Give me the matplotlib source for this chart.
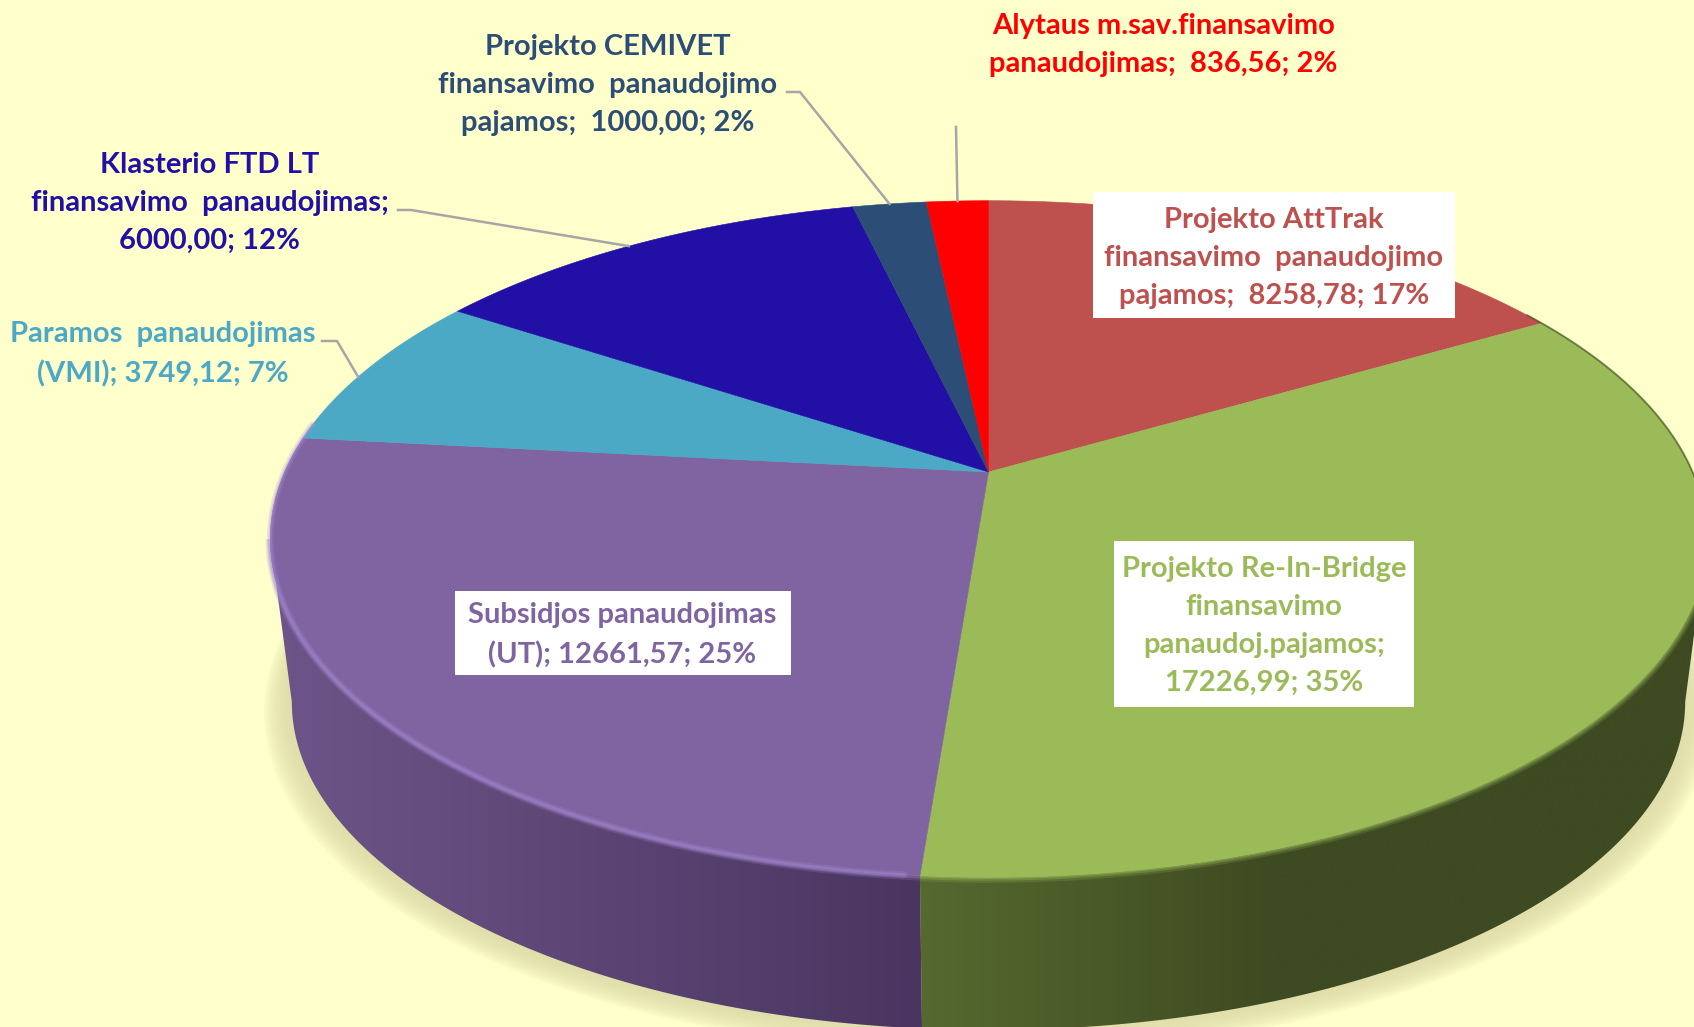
import numpy as np
import matplotlib
matplotlib.use("Agg")
import matplotlib.pyplot as plt
from matplotlib.colors import LinearSegmentedColormap
from matplotlib.patches import Polygon, Rectangle

# slices, clockwise from 12 o'clock
names = ["Projekto AttTrak\nfinansavimo  panaudojimo\npajamos;  8258,78; 17%",
         "Projekto Re-In-Bridge\nfinansavimo\npanaudoj.pajamos;\n17226,99; 35%",
         "Subsidjos panaudojimas\n(UT); 12661,57; 25%",
         "Paramos  panaudojimas\n(VMI); 3749,12; 7%",
         "Klasterio FTD LT\nfinansavimo  panaudojimas;\n6000,00; 12%",
         "Projekto CEMIVET\nfinansavimo  panaudojimo\npajamos;  1000,00; 2%",
         "Alytaus m.sav.finansavimo\npanaudojimas;  836,56; 2%"]
values = [8258.78, 17226.99, 12661.57, 3749.12, 6000.00, 1000.00, 836.56]
colours = ["#BE504E", "#9BBB59", "#8064A2", "#4BA9C5", "#210FA6", "#2C4D75", "#FF0000"]

BG = "#FFFFCC"
CX, CY = 988.5, 472          # pie centre in pixels
A, B, K = 704, 325, 0.198    # disc half-axes and perspective
DEPTH, SHRINK = 165, 0.97    # lower rim of the wall


def rim(theta, depth=0.0, scale=1.0):
    """Angle (deg clockwise from top) to picture pixels, with perspective."""
    t = np.radians(theta)
    w = 1 + K * np.cos(t)
    return np.column_stack([CX + scale * A * np.sin(t) / w,
                            CY + depth - scale * B * np.cos(t) / w])


def wall(ax, t0, t1, cols, stops):
    top = rim(np.linspace(t0, t1, 120))
    low = rim(np.linspace(t1, t0, 120), DEPTH, SHRINK)
    poly = Polygon(np.vstack([top, low]), closed=True, fc="none", ec="none", transform=ax.transData)
    ax.add_patch(poly)
    cmap = LinearSegmentedColormap.from_list("w", list(zip(stops, cols)))
    im = ax.imshow(np.linspace(0, 1, 512)[None, :], cmap=cmap, aspect="auto", zorder=3,
                   extent=(min(top[:, 0].min(), low[:, 0].min()), max(top[:, 0].max(), low[:, 0].max()), 1027, 0))
    im.set_clip_path(poly)


fig = plt.figure(figsize=(16.94, 10.27), dpi=100, facecolor=BG)
ax = fig.add_axes([0, 0, 1, 1], facecolor=BG)
ax.set_axis_off()
plt.rcParams["font.family"] = ["Lato", "DejaVu Sans"]

edges = 360 * np.cumsum([0] + values) / sum(values)
tang = np.degrees(np.arccos(-K))   # where the rim silhouette turns

# soft shadow behind the wall
for grow, shift in zip(np.linspace(1.04, 1.0, 14), np.linspace(8, 0, 14)):
    ax.fill(*rim(np.linspace(0, 360, 361), DEPTH + shift, SHRINK * grow).T, color="#DEDCA8", alpha=0.13, lw=0, zorder=1)

wall(ax, tang, edges[2], ["#56692F", "#3E4A21", "#3E4A21"], [0, 0.45, 1])
wall(ax, edges[2], 360 - tang, ["#6E5589", "#4A3560"], [0, 1])

# blurred bevel of the green rim over the wall
arc = rim(np.linspace(tang, edges[2], 200))
for lw, a in [(8, 0.2), (5, 0.3), (2.5, 0.45)]:
    ax.plot(*arc.T, color=colours[1], lw=lw, alpha=a, zorder=4, solid_capstyle="butt")
arc = rim(np.linspace(edges[2], 360 - tang, 200))
for lw, a in [(7, 0.2), (4, 0.3)]:
    ax.plot(*arc.T, color="#A78BD4", lw=lw, alpha=a, zorder=4, solid_capstyle="butt")

# top face
for c, t0, t1 in zip(colours, edges[:-1], edges[1:]):
    th = np.linspace(t0, t1, max(int(t1 - t0) * 3, 8))
    ax.add_patch(Polygon(np.vstack([[CX, CY], rim(th)]), closed=True, fc=c, ec=c, lw=0.4, zorder=5))

# rim light
arc = rim(np.linspace(edges[2] + 1, 360 - tang + 20, 200))
for lw, a in [(5, 0.2), (2.5, 0.35)]:
    ax.plot(*arc.T, color="#A98EDA", lw=lw, alpha=a, zorder=6, solid_capstyle="round")
arc = rim(np.linspace(edges[1] - 2, tang + 4, 100))
ax.plot(*arc.T, color="#4A5A26", lw=1.4, alpha=0.7, zorder=6)

# leader lines, ending near the middle of their slice
mids = (edges[:-1] + edges[1:]) / 2
elbows = {3: ([(322, 341), (337, 341)], -1.6), 4: ([(398, 210), (411, 210)], -1.3),
          5: ([(787, 92), (800, 92)], 0.0), 6: ([(956, 127)], 0.0)}
for i, (pts, nudge) in elbows.items():
    end = rim(mids[i] + nudge)[0]
    xy = np.array(pts + [tuple(end)])
    ax.plot(xy[:, 0], xy[:, 1], color="#A6A6A6", lw=1.8, zorder=7)

# white label boxes
boxes = {0: (1093, 192, 362, 126), 1: (1114, 541, 300, 166), 2: (455, 591, 336, 84)}
for i, (x, y, w, h) in boxes.items():
    ax.add_patch(Rectangle((x, y), w, h, fc="white", ec="none", zorder=8))

label_xy = [(1274, 258), (1264, 626), (622, 635), (163, 354), (209.5, 203), (608, 85), (1163.5, 45)]
for name, c, (x, y) in zip(names, colours, label_xy):
    ax.text(x, y, name, color=c, ha="center", va="center", fontsize=21, fontweight="bold",
            linespacing=1.58, zorder=9)

ax.set_xlim(0, 1694)
ax.set_ylim(1027, 0)
fig.savefig("out.png", dpi=100, facecolor=BG)
